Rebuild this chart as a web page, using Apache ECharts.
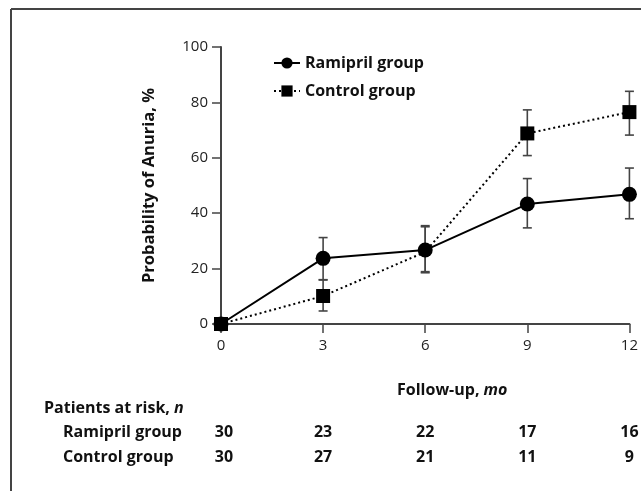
<!DOCTYPE html>
<html>
<head>
<meta charset="utf-8">
<script src="https://cdn.jsdelivr.net/npm/echarts@6/dist/echarts.min.js"></script>
<style>
html,body{margin:0;padding:0;background:#fff;}
#c{width:641px;height:491px;}
</style>
</head>
<body>
<div id="c"></div>
<script>
var months = [0, 3, 6, 9, 12];
var ramipril = [0, 23.7, 26.7, 43.3, 46.8];
var ramiprilLow = [null, 16, 18.5, 34.7, 38];
var ramiprilHigh = [null, 31.2, 35.5, 52.5, 56.3];
var control = [0, 10.1, 26, 68.8, 76.5];
var controlLow = [null, 4.7, 18.9, 60.8, 68.2];
var controlHigh = [null, 15.9, 35.1, 77.3, 84];
var controlMarkerShown = [true, true, false, true, true];
var yTicks = [0, 20, 40, 60, 80, 100];
var riskRamipril = [30, 23, 22, 17, 16];
var riskControl = [30, 27, 21, 11, 9];

var FONT = '"Open Sans", "DejaVu Sans", sans-serif';

function pairs(xs, ys) { return xs.map(function (x, i) { return [x, ys[i]]; }); }
function errData(lo, hi) {
  var out = [];
  months.forEach(function (m, i) { if (lo[i] != null) out.push([m, lo[i], hi[i]]); });
  return out;
}
function errRender(params, api) {
  var x = api.value(0);
  var lo = api.coord([x, api.value(1)]);
  var hi = api.coord([x, api.value(2)]);
  var w = 4.5;
  var st = { stroke: '#444', lineWidth: 1.6 };
  return {
    type: 'group',
    children: [
      { type: 'line', shape: { x1: lo[0], y1: lo[1], x2: hi[0], y2: hi[1] }, style: st },
      { type: 'line', shape: { x1: lo[0] - w, y1: lo[1], x2: lo[0] + w, y2: lo[1] }, style: st },
      { type: 'line', shape: { x1: hi[0] - w, y1: hi[1], x2: hi[0] + w, y2: hi[1] }, style: st }
    ]
  };
}
var controlData = months.map(function (m, i) {
  return controlMarkerShown[i] ? { value: [m, control[i]] } : { value: [m, control[i]], symbol: 'none' };
});

var chart = echarts.init(document.getElementById('c'), null, { renderer: 'canvas' });
var option = {
  animation: false,
  backgroundColor: '#fff',
  textStyle: { fontFamily: FONT },
  grid: { left: 221, right: 9, top: 47, bottom: 167, containLabel: false },
  legend: {
    left: 268, top: 50, orient: 'vertical', itemGap: 12,
    itemWidth: 26, itemHeight: 14,
    textStyle: { fontFamily: FONT, fontSize: 16, fontWeight: 'bold', color: '#111' },
    data: ['Ramipril group', 'Control group']
  },
  xAxis: {
    type: 'value', min: 0, max: 12, interval: 3,
    axisLine: { lineStyle: { color: '#444', width: 2 } },
    axisTick: { show: true, length: 9, lineStyle: { color: '#444', width: 1.5 } },
    axisLabel: { color: '#222', fontSize: 15, margin: 14, fontFamily: FONT, showMaxLabel: true },
    splitLine: { show: false }
  },
  yAxis: {
    type: 'value', min: 0, max: 100, interval: 20,
    name: 'Probability of Anuria, %', nameLocation: 'middle', nameGap: 63, nameRotate: 90,
    nameTextStyle: { fontFamily: FONT, fontSize: 16.5, fontWeight: 'bold', color: '#111' },
    axisLine: { show: true, lineStyle: { color: '#444', width: 2 } },
    axisTick: { show: true, length: 9, lineStyle: { color: '#444', width: 1.5 } },
    axisLabel: { color: '#222', fontSize: 15, margin: 13, fontFamily: FONT },
    splitLine: { show: false }
  },
  series: [
    { type: 'custom', name: 'errR', renderItem: errRender, data: errData(ramiprilLow, ramiprilHigh), z: 1, silent: true },
    { type: 'custom', name: 'errC', renderItem: errRender, data: errData(controlLow, controlHigh), z: 1, silent: true },
    {
      type: 'line', name: 'Control group', data: controlData,
      symbol: 'rect', symbolSize: 14, showAllSymbol: true,
      itemStyle: { color: '#000' },
      lineStyle: { color: '#000', width: 2, type: [2, 3] }, z: 3
    },
    {
      type: 'line', name: 'Ramipril group', data: pairs(months, ramipril),
      symbol: 'circle', symbolSize: 15, showAllSymbol: true,
      itemStyle: { color: '#000' },
      lineStyle: { color: '#000', width: 2 }, z: 4
    }
  ]
};
chart.setOption(option);

// Frame and risk table
var g = [];
g.push({ type: 'line', shape: { x1: 11, y1: 9, x2: 641, y2: 9 }, style: { stroke: '#444', lineWidth: 2 } });
g.push({ type: 'line', shape: { x1: 11, y1: 9, x2: 11, y2: 491 }, style: { stroke: '#444', lineWidth: 2 } });
var midX = chart.convertToPixel({ gridIndex: 0 }, [7, 0])[0];
var rich = { a: { fontFamily: FONT, fontSize: 16, fontWeight: 'bold', fill: '#111' }, b: { fontFamily: FONT, fontSize: 16, fontWeight: 'bold', fontStyle: 'italic', fill: '#111' } };
g.push({ type: 'text', x: midX - 7, y: 390, style: { rich: rich, text: '{a|Follow-up, }{b|mo}', align: 'center', verticalAlign: 'middle' } });
g.push({ type: 'text', x: 44, y: 408, style: { rich: rich, text: '{a|Patients at risk, }{b|n}', align: 'left', verticalAlign: 'middle' } });
g.push({ type: 'text', x: 63, y: 432, style: { text: 'Ramipril group', fontFamily: FONT, fontSize: 16, fontWeight: 'bold', fill: '#111', align: 'left', verticalAlign: 'middle' } });
g.push({ type: 'text', x: 63, y: 457, style: { text: 'Control group', fontFamily: FONT, fontSize: 16, fontWeight: 'bold', fill: '#111', align: 'left', verticalAlign: 'middle' } });
months.forEach(function (m, i) {
  var px = chart.convertToPixel({ gridIndex: 0 }, [m, 0])[0];
  if (i === 0) px += 3;
  g.push({ type: 'text', x: px, y: 432, style: { text: String(riskRamipril[i]), fontFamily: FONT, fontSize: 16, fontWeight: 'bold', fill: '#111', align: 'center', verticalAlign: 'middle' } });
  g.push({ type: 'text', x: px, y: 457, style: { text: String(riskControl[i]), fontFamily: FONT, fontSize: 16, fontWeight: 'bold', fill: '#111', align: 'center', verticalAlign: 'middle' } });
});
chart.setOption({ graphic: g });
</script>
</body>
</html>
